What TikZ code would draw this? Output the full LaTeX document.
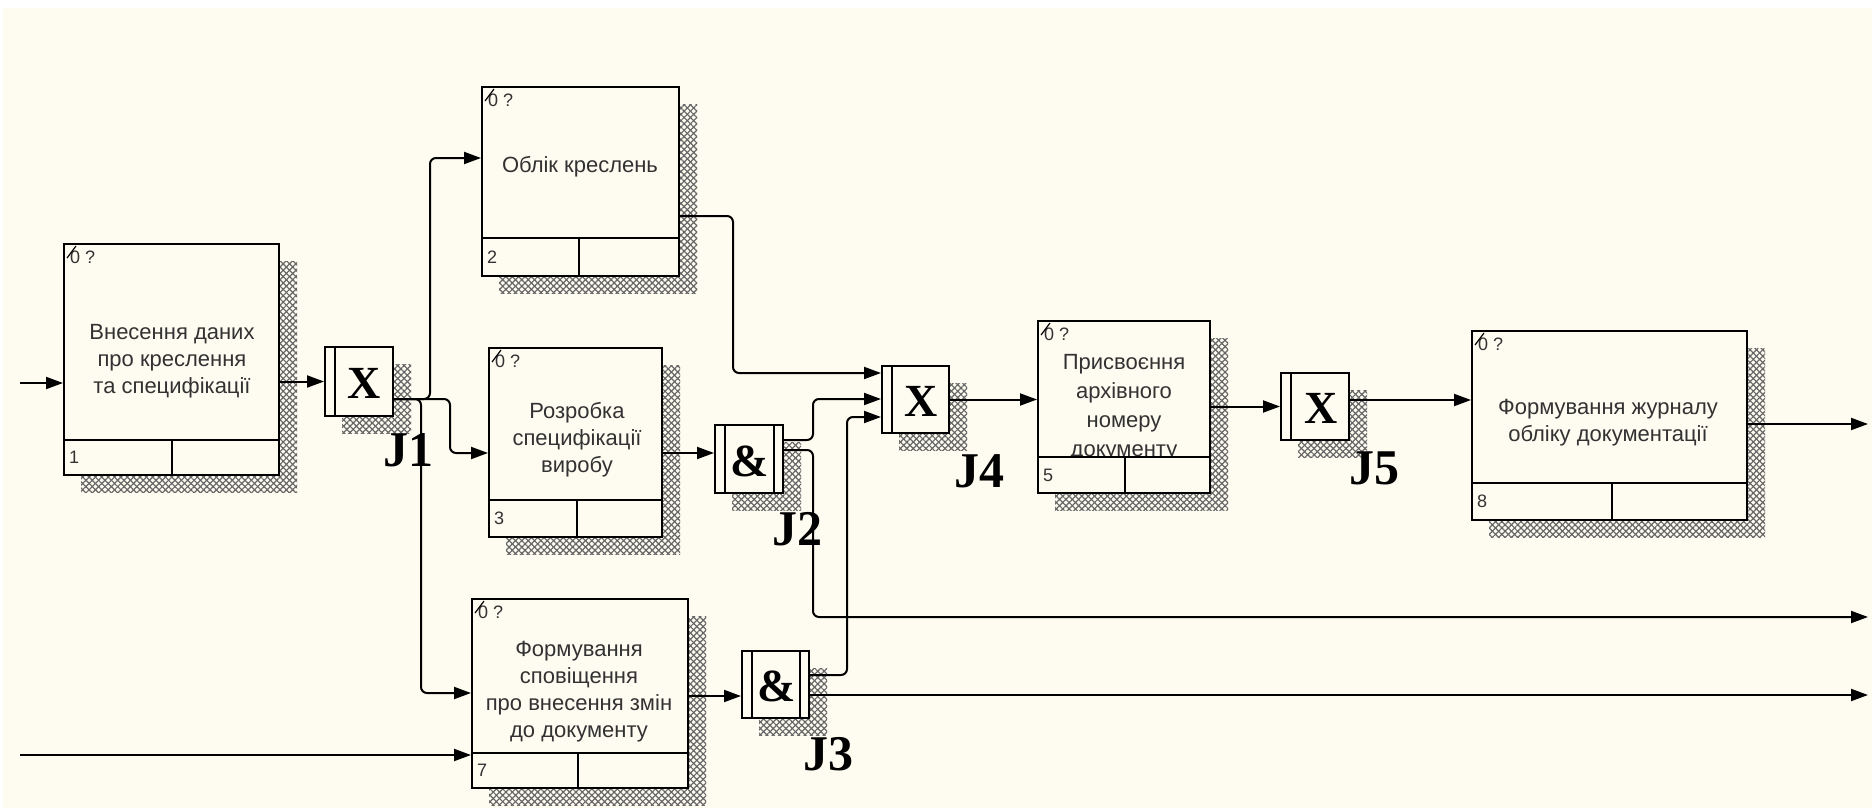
\documentclass[tikz,border=0pt]{standalone}
\usepackage{fontspec}
\setmainfont{Liberation Sans}
\newfontfamily\jfont{Liberation Serif}
\usetikzlibrary{arrows.meta,patterns.meta}
\definecolor{bgc}{RGB}{254,251,241}
\definecolor{txtc}{RGB}{50,50,50}

\begin{document}
\begin{tikzpicture}[x=1pt,y=-1pt,
    flow/.style={line width=2pt, rounded corners=6pt, -{Triangle[length=17pt,width=12pt]}},
    actbox/.style={draw, line width=2pt, fill=bgc, inner sep=0pt},
    acttxt/.style={align=center, text=txtc, inner sep=0pt, font=\fontsize{22}{27}\selectfont},
    smalltxt/.style={text=txtc, inner sep=0pt, font=\fontsize{18}{18}\selectfont},
    jsym/.style={inner sep=0pt, font=\jfont\bfseries\fontsize{46}{46}\selectfont},
    jlabel/.style={inner sep=0pt, font=\jfont\bfseries\fontsize{50}{50}\selectfont},
    hatch/.style={pattern={Lines[angle=#1,distance=4.5pt,line width=1.2pt]}, pattern color=black!60}]
    \useasboundingbox (0,0) rectangle (1872,808);
    \fill[white] (0,0) rectangle (1872,808);
    \fill[bgc] (3,8) rectangle (1872,808);
    % activity boxes
    \foreach \n/\l/\t/\r/\b in {b1/64/244/279/475, b2/482/87/679/276, b3/489/348/662/537,
        b7/472/599/688/788, b5/1038/321/1210/493, b8/1472/331/1747/520} {
        \fill[hatch=45] (\l+17,\t+17) rectangle (\r+18,\b+17);
        \fill[hatch=-45] (\l+17,\t+17) rectangle (\r+18,\b+17);
        \node[actbox, minimum width=\r-\l, minimum height=\b-\t] (\n) at ({(\l+\r)/2},{(\t+\b)/2}) {};
    }
    % junctions
    \foreach \n/\l/\t/\r/\b/\s/\sx in {j1/325/347/393/416/X/364, j2/715/425/783/493/\&/750,
        j3/742/651/809/718/\&/777, j4/882/366/949/433/X/921, j5/1281/373/1349/440/X/1321} {
        \fill[hatch=45] (\l+17,\t+17) rectangle (\r+18,\b+17);
        \fill[hatch=-45] (\l+17,\t+17) rectangle (\r+18,\b+17);
        \node[actbox, minimum width=\r-\l, minimum height=\b-\t] (\n) at ({(\l+\r)/2},{(\t+\b)/2}) {};
        \draw[line width=2pt] (\l+10,\t) -- (\l+10,\b);
        \node[jsym] at (\sx,{(\t+\b)/2+2}) {\s};
    }
    \draw[line width=2pt] (j2.north east) ++(-10,0) -- ++(0,68);
    \draw[line width=2pt] (j3.north east) ++(-10,0) -- ++(0,67);
    \node[jlabel] (l1) at (408,450) {J1};
    \node[jlabel] (l2) at (797,529) {J2};
    \node[jlabel] (l3) at (828,754) {J3};
    \node[jlabel] (l4) at (979,471) {J4};
    \node[jlabel] (l5) at (1374,468) {J5};
    % box texts
    \node[acttxt] (t1) at (172,361) {Внесення даних\\про креслення\\та специфікації};
    \node[acttxt] (t2) at (580,167) {Облік креслень};
    \node[acttxt] (t3) at (577,440) {Розробка\\специфікації\\виробу};
    \node[acttxt] (t7) at (579,692) {Формування\\сповіщення\\про внесення змін\\до документу};
    \node[acttxt, font=\fontsize{22}{29}\selectfont] (t5) at (1124,408) {Присвоєння\\архівного\\номеру\\документу};
    \node[acttxt] (t8) at (1608,423) {Формування журналу\\обліку документації};
    % footers
    \foreach \n/\l/\t/\r/\b/\f/\d/\k in {b1/64/244/279/475/440/172/1, b2/482/87/679/276/238/579/2,
        b3/489/348/662/537/500/577/3, b7/472/599/688/788/753/578/7,
        b5/1038/321/1210/493/457/1125/5, b8/1472/331/1747/520/483/1612/8} {
        \fill[bgc] (\l+1,\f) rectangle (\r-1,\b-1);
        \draw[line width=2pt] (\n.west |- 0,\f) -- (\n.east |- 0,\f);
        \draw[line width=2pt] (\d,\f) -- (\d,\b);
        \node[smalltxt, anchor=west] at (\l+5,{(\f+\b)/2}) {\k};
        \node[smalltxt, anchor=north west] at (\l+6,\t+7) {0 ?};
        \draw[line width=1.2pt] (\l+3,\t+14) -- (\l+12,\t+2);
    }
    % connectors
    \coordinate (in1) at (20,383);
    \coordinate (in7) at (20,755);
    \coordinate (o2) at (1868,617);
    \coordinate (o3) at (1868,695);
    \coordinate (o8) at (1868,424);
    \draw[flow] (in1) -- (in1 -| b1.west);
    \draw[flow] (b1.east |- j1.west) -- (j1.west);
    \draw[flow] (j1.east |- 0,399) -| (430,158) -- (b2.west |- 0,158);
    \draw[flow] (j1.east |- 0,399) -| (450,453) -- (b3.west |- 0,453);
    \draw[flow] (j1.east |- 0,399) -| (421,693) -- (b7.west |- 0,693);
    \draw[flow] (in7) -- (in7 -| b7.west);
    \draw[flow] (b2.east |- 0,216) -| (733,373) -- (j4.west |- 0,373);
    \draw[flow] (b3.east |- 0,453) -- (j2.west |- 0,453);
    \draw[flow] (j2.east |- 0,440) -| (813,399) -- (j4.west |- 0,399);
    \draw[flow] (j2.east |- 0,450) -| (813,617) -- (o2);
    \draw[flow] (b7.east |- 0,696) -- (j3.west |- 0,696);
    \draw[flow] (j3.east |- 0,675) -| (847,417) -- (j4.west |- 0,417);
    \draw[flow] (j3.east |- 0,695) -- (o3);
    \draw[flow] (j4.east) -- (b5.west |- j4.east);
    \draw[flow] (b5.east |- j5.west) -- (j5.west);
    \draw[flow] (j5.east |- 0,400) -- (b8.west |- 0,400);
    \draw[flow] (b8.east |- o8) -- (o8);
\end{tikzpicture}
\end{document}
